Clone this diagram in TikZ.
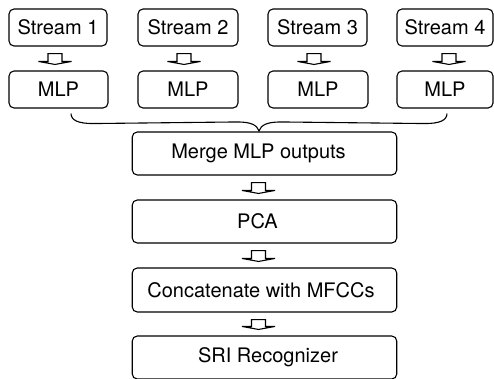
\documentclass[tikz,border=0pt]{standalone}
\usepackage{fontspec}
\setmainfont{TeX Gyre Heros}
\usetikzlibrary{calc}

\tikzset{
  box/.style={draw, line width=1.1pt, rounded corners=5pt, minimum height=37pt,
              inner sep=0pt, font=\fontsize{20}{24}\selectfont},
  wide/.style={box, minimum width=264.5pt, minimum height=43pt},
  boxtext/.style={font=\fontsize{20}{24}\selectfont, inner sep=0pt},
  blockarr/.style={draw, line width=1.1pt, line join=miter, fill=white},
  bracecurve/.style={draw, line width=1.1pt}
}

% hollow down-pointing block arrow between two nodes, shifted sideways by #3
\newcommand\flowarrow[3]{%
  \draw[blockarr] let \p1=($(#1.south)+(#3,0)$), \p2=($(#2.north)+(#3,0)$) in
    (\x1-7pt,\y1-7pt) -- (\x1-7pt,\y2+9pt) -- (\x1-16.5pt,\y2+9pt) --
    (\x1,\y2+6pt) -- (\x1+16.5pt,\y2+9pt) -- (\x1+7pt,\y2+9pt) --
    (\x1+7pt,\y1-7pt) -- cycle;}

\begin{document}
\begin{tikzpicture}[x=1pt,y=-1pt]
\useasboundingbox (0,0) rectangle (494,378);

% input streams
\node[box, minimum width=98pt]  (s1) at (58,27.5)    {Stream 1};
\node[box, minimum width=100pt] (s2) at (188,27.5)   {Stream 2};
\node[box, minimum width=99pt]  (s3) at (317.5,27.5) {Stream 3};
\node[box, minimum width=96pt]  (s4) at (445,27.5)   {Stream 4};

% one MLP per stream
\node[box, minimum width=99pt]  (m1) at (58.5,89.5)  {MLP};
\node[box, minimum width=100pt] (m2) at (188,89.5)   {MLP};
\node[box, minimum width=100pt] (m3) at (318,89.5)   {MLP};
\node[box, minimum width=96pt]  (m4) at (445,89.5)   {MLP};

\flowarrow{s1}{m1}{-3}
\flowarrow{s2}{m2}{-4}
\flowarrow{s3}{m3}{-3.5}
\flowarrow{s4}{m4}{4}

% processing chain
\node[wide] (merge)  at (264.5,153.5) {};
\node[wide] (pca)    at (264.5,221.5) {};
\node[wide, minimum height=44pt] (concat) at (264.5,290) {};
\node[wide] (sri)    at (264.5,357.5) {};

\node[boxtext] (merge-t)  at ($(merge)+(-6,0)$)   {Merge MLP outputs};
\node[boxtext] (pca-t)    at ($(pca)+(-7,0)$)     {PCA};
\node[boxtext] (concat-t) at ($(concat)+(-3.5,0)$) {Concatenate with MFCCs};
\node[boxtext] (sri-t)    at ($(sri)+(3.5,0)$)    {SRI Recognizer};

\flowarrow{merge}{pca}{-6}
\flowarrow{pca}{concat}{-6}
\flowarrow{concat}{sri}{-6}

% brace gathering the MLP outputs
\coordinate (bl) at ($(m1.south)+(12.5,5)$);
\coordinate (br) at ($(m4.south)+(2,5)$);
\coordinate (bc) at ($(merge.north)+(-5.5,-0.5)$);
\draw[bracecurve] (bl) .. controls ($(bl)+(0,7)$) and ($(bl)+(8,10)$) .. ($(bl)+(22,10)$)
  -- ($(bc)+(-22,-9)$) .. controls ($(bc)+(-8,-9)$) and ($(bc)+(-2,-6)$) .. (bc)
  .. controls ($(bc)+(2,-6)$) and ($(bc)+(8,-9)$) .. ($(bc)+(22,-9)$)
  -- ($(br)+(-22,10)$) .. controls ($(br)+(-8,10)$) and ($(br)+(0,7)$) .. (br);
\end{tikzpicture}
\end{document}
